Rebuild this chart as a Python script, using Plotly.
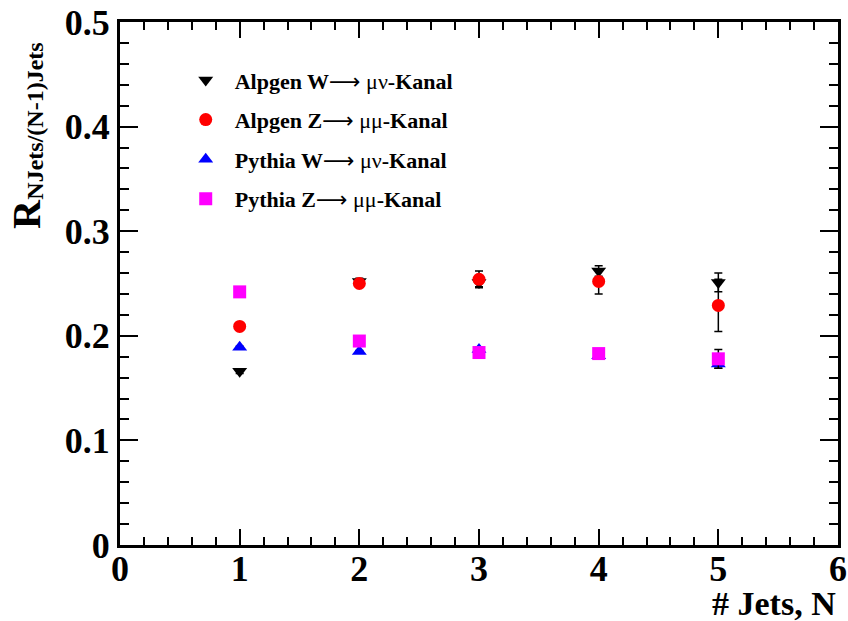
import plotly.graph_objects as go

n_jets = [1, 2, 3, 4, 5]

alpgen_w = [0.166, 0.252, 0.251, 0.262, 0.251]
alpgen_w_err = [0.002, 0.003, 0.004, 0.005, 0.009]

alpgen_z = [0.209, 0.250, 0.254, 0.252, 0.229]
alpgen_z_err = [0.002, 0.003, 0.008, 0.012, 0.025]

pythia_w = [0.189, 0.185, 0.187, 0.181, 0.173]
pythia_w_err = [0.001, 0.001, 0.002, 0.002, 0.004]

pythia_z = [0.242, 0.195, 0.184, 0.183, 0.178]
pythia_z_err = [0.001, 0.001, 0.002, 0.002, 0.009]

ARROW = "<span style='font-family:DejaVu Sans;font-weight:normal'>\u27f6</span>"
MU = "<span style='font-weight:normal'>\u03bc</span>"
NU = "<span style='font-weight:normal'>\u03bd</span>"
names = ["Alpgen W" + ARROW + " " + MU + NU + "-Kanal",
         "Alpgen Z" + ARROW + " " + MU + MU + "-Kanal",
         "Pythia W" + ARROW + " " + MU + NU + "-Kanal",
         "Pythia Z" + ARROW + " " + MU + MU + "-Kanal"]
series = [alpgen_w, alpgen_z, pythia_w, pythia_z]
errors = [alpgen_w_err, alpgen_z_err, pythia_w_err, pythia_z_err]
colors = ["#000000", "#ff0000", "#0000ff", "#ff00ff"]
symbols = ["triangle-down", "circle", "triangle-up", "square"]

FONT = "Liberation Serif"

fig = go.Figure()
for i, (nm, ys, es, c, s) in enumerate(zip(names, series, errors, colors, symbols)):
    fig.add_trace(go.Scatter(
        x=n_jets, y=ys, mode="markers", name=nm, legendgroup=str(i),
        marker=dict(symbol=s, color=c, size=13, line=dict(width=0)),
        error_y=dict(type="data", array=es, visible=True, color="black",
                     thickness=1.5, width=4),
    ))

axis_common = dict(
    showgrid=False, zeroline=False, showline=True, linecolor="black", linewidth=3,
    mirror="ticks", ticks="inside", tickcolor="black", tickwidth=1.5, automargin=False,
    tickfont=dict(family=FONT, size=36, color="black", weight="bold"),
)

fig.update_xaxes(range=[0, 6], dtick=1, ticklen=16, ticklabelstandoff=-10,
                 minor=dict(dtick=0.2, ticks="inside", ticklen=8, tickcolor="black", tickwidth=1.5),
                 **axis_common)
fig.update_yaxes(range=[0, 0.5], dtick=0.1, ticklen=18, tickformat="~g",
                 minor=dict(dtick=0.02, ticks="inside", ticklen=9, tickcolor="black", tickwidth=1.5),
                 **axis_common)

fig.add_annotation(text="# Jets, N", xref="paper", yref="paper", x=1.0, y=0,
                   xanchor="right", yanchor="top", yshift=-38, showarrow=False,
                   font=dict(family=FONT, size=34, color="black", weight="bold"))
fig.add_annotation(text="R", xref="paper", yref="paper", x=-0.1295, y=0.633,
                   xanchor="center", yanchor="middle", showarrow=False, textangle=-90,
                   font=dict(family=FONT, size=40, color="black", weight="bold"))
fig.add_annotation(text="NJets/(N-1)Jets", xref="paper", yref="paper", x=-0.118, y=0.81,
                   xanchor="center", yanchor="middle", showarrow=False, textangle=-90,
                   font=dict(family=FONT, size=24, color="black", weight="bold"))

fig.update_layout(
    width=848, height=621,
    margin=dict(l=120, r=10, t=22, b=76),
    paper_bgcolor="white", plot_bgcolor="white",
    showlegend=True,
    legend=dict(x=0.079, y=0.929, xanchor="left", yanchor="top",
                bgcolor="rgba(0,0,0,0)", tracegroupgap=8, itemwidth=48,
                font=dict(family=FONT, size=22, color="black", weight="bold")),
)

fig.write_html("out.html")
